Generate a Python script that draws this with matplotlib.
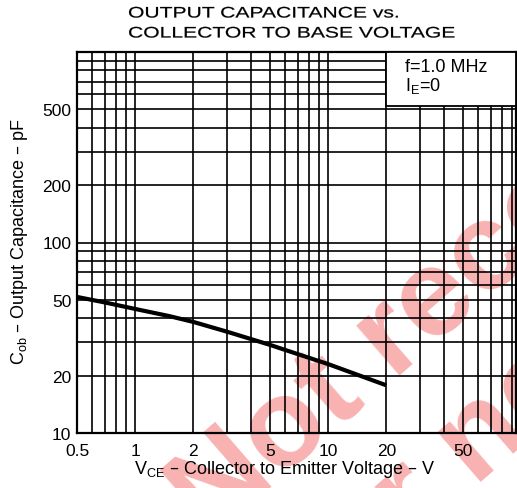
import numpy as np
import matplotlib
matplotlib.use("Agg")
import matplotlib.pyplot as plt
from matplotlib.ticker import FixedLocator, LogLocator, NullFormatter
from matplotlib.patches import Rectangle
from matplotlib.patheffects import AbstractPathEffect
from matplotlib.transforms import Affine2D

# curve
vce = [0.5, 0.7, 1, 1.5, 2, 3, 5, 7, 10, 15, 20]
cob = [51.8, 48.4, 44.8, 41.1, 38.3, 34.0, 29.0, 25.9, 23.0, 19.8, 17.8]

x_ticks = [0.5, 1, 2, 5, 10, 20, 50]
x_labels = ["0.5", "1", "2", "5", "10", "20", "50"]
y_ticks = [10, 20, 50, 100, 200, 500]
y_labels = ["10", "20", "50", "100", "200", "500"]

XMIN, XMAX = 0.5, 94
YMIN, YMAX = 10, 1000

W, H = 517, 489
FONT = "Liberation Sans"


class Stretch(AbstractPathEffect):
    # widen text horizontally (title is set in an extended face), with a light stroke
    def __init__(self, sx, lw=0.0):
        super().__init__()
        self.sx = sx
        self.lw = lw

    def draw_path(self, renderer, gc, tpath, affine, rgbFace=None):
        gc0 = renderer.new_gc()
        gc0.copy_properties(gc)
        if self.lw:
            gc0.set_linewidth(self.lw)
            gc0.set_foreground(rgbFace)
        renderer.draw_path(gc0, tpath, Affine2D().scale(self.sx, 1) + affine, rgbFace)
        gc0.restore()


fig = plt.figure(figsize=(W / 100, H / 100), dpi=100)
fig.patch.set_facecolor("white")

# axes box in pixels: left 77, right 516, top 53, bottom 434
ax = fig.add_axes([77 / W, (H - 434) / H, (516 - 77) / W, (434 - 53) / H])
ax.set_facecolor("none")
ax.set_xscale("log")
ax.set_yscale("log")
ax.set_xlim(XMIN, XMAX)
ax.set_ylim(YMIN, YMAX)

ax.xaxis.set_major_locator(FixedLocator(x_ticks))
ax.xaxis.set_ticklabels(x_labels)
ax.yaxis.set_major_locator(FixedLocator(y_ticks))
ax.yaxis.set_ticklabels(y_labels)
for a in (ax.xaxis, ax.yaxis):
    a.set_minor_locator(LogLocator(base=10, subs=np.arange(1, 10), numticks=20))
    a.set_minor_formatter(NullFormatter())

ax.tick_params(which="both", length=0)
ax.tick_params(axis="x", pad=7, labelsize=12.5)
ax.tick_params(axis="y", pad=4, labelsize=12.5)
for lab in ax.get_xticklabels() + ax.get_yticklabels():
    lab.set_fontfamily(FONT)

ax.grid(which="both", color="black", linewidth=1.2)
for s in ax.spines.values():
    s.set_linewidth(1.6)
    s.set_color("black")

ax.plot(vce, cob, color="black", linewidth=3.0, solid_capstyle="butt",
        solid_joinstyle="round", zorder=3)

# condition box in the upper right, hides the grid below it
ax.add_patch(Rectangle((20, 520), XMAX - 20, YMAX - 520, facecolor="white",
                       edgecolor="black", linewidth=1.3, zorder=4, clip_on=False))
ax.text(0.747, 0.963, "f=1.0 MHz", transform=ax.transAxes, fontsize=13,
        family=FONT, va="center", ha="left", zorder=5)
ax.text(0.747, 0.914, r"$\mathregular{I_E}$=0", transform=ax.transAxes, fontsize=13,
        family=FONT, va="center", ha="left", zorder=5)

# title, two lines left aligned
for txt, yb in [("OUTPUT CAPACITANCE vs.", 18.5), ("COLLECTOR TO BASE VOLTAGE", 38.5)]:
    fig.text(128 / W, 1 - yb / H, txt, fontsize=11, family=FONT, ha="left",
             va="baseline", path_effects=[Stretch(1.38, 0.15)])

fig.text(20 / W, 1 - 241 / H, r"$\mathregular{C_{ob}}$ – Output Capacitance – pF",
         rotation=90, ha="center", va="center", fontsize=13, family=FONT)
fig.text(285 / W, 1 - 470 / H, r"$\mathregular{V_{CE}}$ – Collector to Emitter Voltage – V",
         ha="center", va="center", fontsize=13, family=FONT)

# red scan watermark
wm = dict(fontsize=90, family=FONT, weight="bold", color="#f8b2b2", rotation=41,
          rotation_mode="anchor", ha="left", va="baseline", zorder=-1)
fig.text(210 / W, 1 - 540 / H, "Not recommended", **wm)
fig.text((210 + 33 * 0.755 + 134 * 0.656) / W, 1 - (540 - 33 * 0.656 + 134 * 0.755) / H,
         "for new design", **wm)

fig.savefig("out.png", dpi=100, facecolor="white")
